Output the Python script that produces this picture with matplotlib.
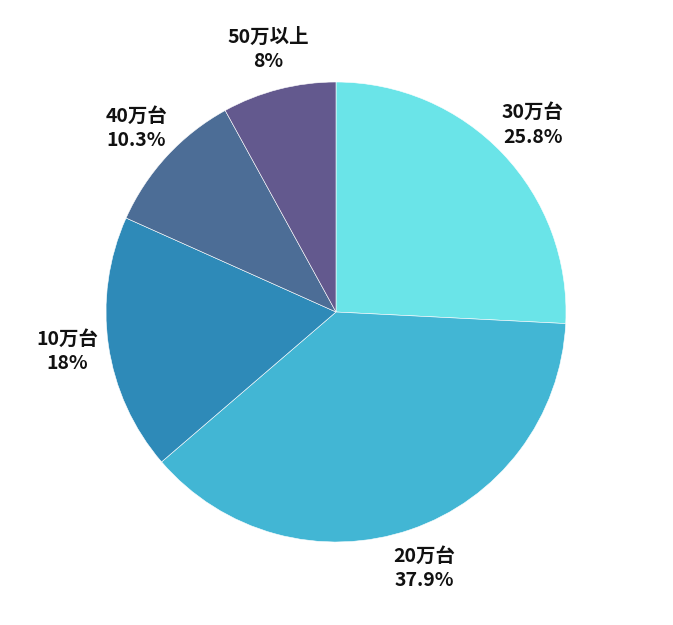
import numpy as np
from matplotlib import pyplot as plt

plt.rcParams['font.family'] = ['Noto Sans CJK JP', 'DejaVu Sans']

# Data
labels = ['30万台', '20万台', '10万台', '40万台', '50万以上']
values = [25.8, 37.9, 18, 10.3, 8]
pct_text = ['25.8%', '37.9%', '18%', '10.3%', '8%']
colors = ['#6ae4e8', '#42b6d4', '#2e8ab8', '#4c6d96', '#63598e']

fig = plt.figure(figsize=(6.73, 6.25), dpi=100)
ax = fig.add_axes([0, 0, 1, 1])

center = (336, 313)
radius = 230
wedges, _ = ax.pie(values, colors=colors, startangle=90, counterclock=False,
                   center=center, radius=radius, frame=True,
                   wedgeprops=dict(edgecolor='white', linewidth=0.4))
ax.set_xlim(0, 673)
ax.set_ylim(0, 625)
ax.set_aspect('equal')
ax.axis('off')

# Labels outside each slice
for w, lab, pt in zip(wedges, labels, pct_text):
    ang = np.deg2rad((w.theta1 + w.theta2) / 2)
    d = radius * 1.18
    x = center[0] + d * np.cos(ang)
    y = center[1] + d * np.sin(ang)
    ax.text(x, y, lab + '\n' + pt, ha='center', va='center',
            fontsize=14, fontweight='bold', color='#111111', linespacing=1.35)

plt.savefig('out.png', dpi=100)
